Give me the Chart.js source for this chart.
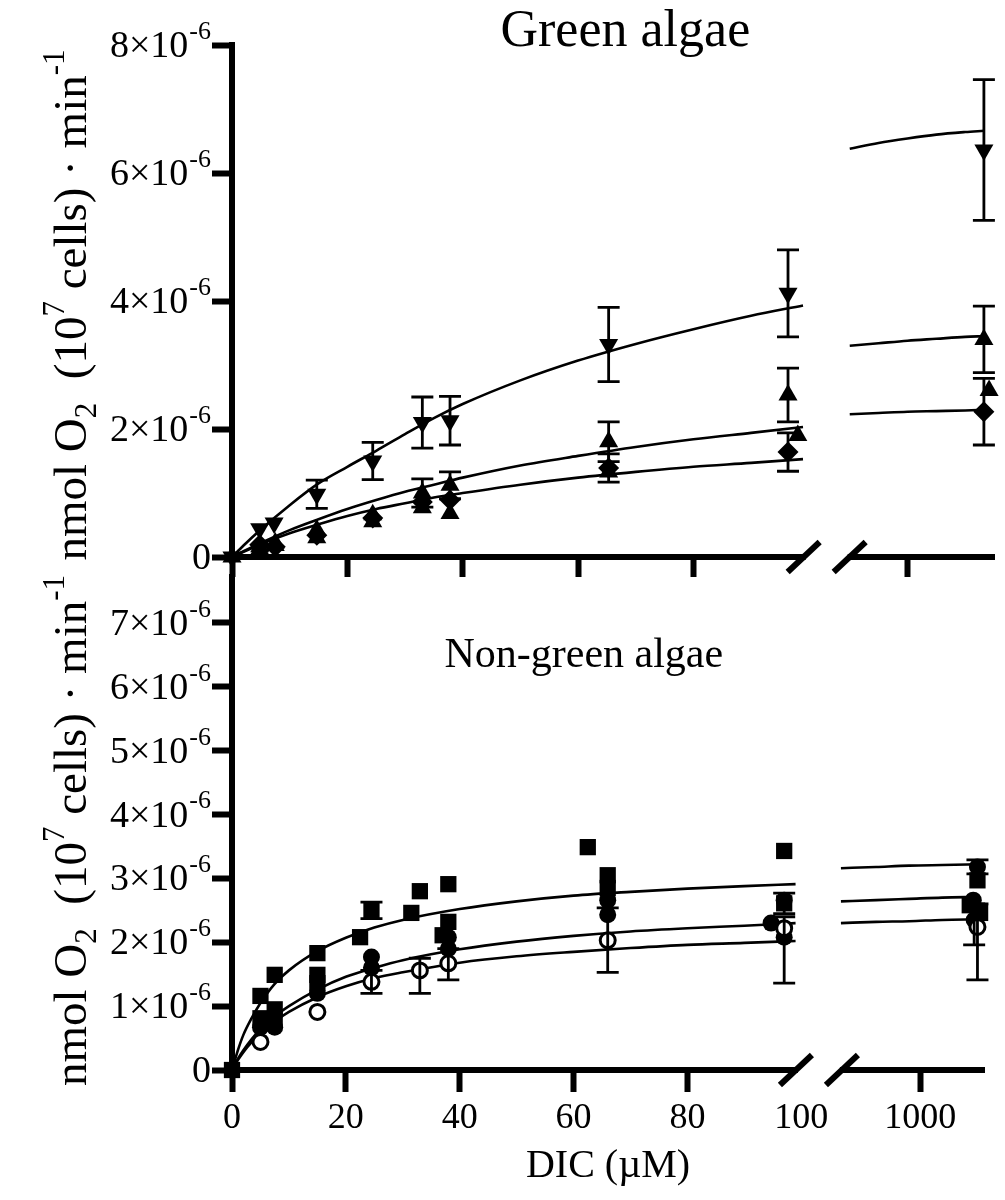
<!DOCTYPE html>
<html>
<head>
<meta charset="utf-8">
<script src="https://cdn.jsdelivr.net/npm/chart.js@4.4.1/dist/chart.umd.min.js"></script>
<style>
  body { margin: 0; background: #fff; }
  #wrap { position: relative; width: 1005px; height: 1200px; }
  canvas { position: absolute; left: 0; }
  #top { top: 0; }
  #bottom { top: 540px; }
</style>
</head>
<body>
<div id="wrap">
  <canvas id="top" width="1005" height="577"></canvas>
  <canvas id="bottom" width="1005" height="660"></canvas>
</div>
<script>
"use strict";

const SERIF = "'Liberation Serif', 'Times New Roman', serif";
Chart.defaults.font.family = SERIF;
Chart.defaults.color = "#000";

// DIC in µM. Rates in units of 10^-6 nmol O2 (10^7 cells)^-1 min^-1.
// The x axis is broken: 0-100 µM on the left part, ~1000 µM on the right part.
const farTicks = [1000];

// ---- Green algae (top panel) ----
const gDownX = [0, 4.8, 7.3, 14.7, 24.4, 33, 37.8, 65.3, 96.4];
const gDownY = [0, 0.44, 0.53, 0.98, 1.5, 2.1, 2.13, 3.32, 4.12];
const gDownSd = [0, 0, 0, 0.22, 0.29, 0.4, 0.38, 0.58, 0.68];
const gDownFarX = [1265];
const gDownFarY = [6.36];
const gDownFarSd = [1.1];

const gUpX = [0, 4.8, 7.5, 14.7, 24.4, 33, 37.8, 65.3, 96.4];
const gUpY = [0, 0.16, 0.22, 0.42, 0.66, 1.0, 1.12, 1.8, 2.53];
const gUpSd = [0, 0, 0, 0, 0, 0.22, 0.21, 0.31, 0.42];
const gUpFarX = [1265];
const gUpFarY = [3.4];
const gUpFarSd = [0.52];

const gUp2X = [4.8, 7.5, 14.7, 24.4, 33, 37.8, 65.3, 98.1];
const gUp2Y = [0.12, 0.18, 0.3, 0.55, 0.77, 0.68, 1.33, 1.9];
const gUp2FarX = [1283];
const gUp2FarY = [2.6];

const gDiaX = [4.8, 7.5, 14.7, 24.4, 33, 37.8, 65.3, 96.4];
const gDiaY = [0.19, 0.16, 0.34, 0.61, 0.86, 0.89, 1.39, 1.64];
const gDiaSd = [0, 0, 0, 0, 0, 0, 0.22, 0.3];
const gDiaFarX = [1265];
const gDiaFarY = [2.27];
const gDiaFarSd = [0.52];

// fitted curves
const gFitX = [0, 2, 5, 10, 15, 20, 25, 30, 35, 40, 50, 60, 70, 80, 90, 99];
const gDownFit = [0, 0.18, 0.43, 0.81, 1.15, 1.41, 1.66, 1.92, 2.17, 2.39, 2.76, 3.07, 3.33, 3.56, 3.77, 3.93];
const gUpFit = [0, 0.09, 0.22, 0.42, 0.59, 0.75, 0.89, 1.02, 1.13, 1.24, 1.43, 1.58, 1.72, 1.84, 1.94, 2.03];
const gDiaFit = [0, 0.08, 0.2, 0.37, 0.51, 0.64, 0.75, 0.84, 0.93, 1.0, 1.13, 1.24, 1.33, 1.41, 1.47, 1.53];
const gFitFarX = [800, 900, 1000, 1100, 1200, 1265];
const gDownFitFar = [6.38, 6.47, 6.54, 6.6, 6.64, 6.66];
const gUpFitFar = [3.3, 3.34, 3.38, 3.41, 3.44, 3.45];
const gDiaFitFar = [2.23, 2.25, 2.27, 2.28, 2.29, 2.3];

// ---- Non-green algae (bottom panel) ----
const nSqX = [0, 5, 7.5, 15, 22.5, 31.5, 37, 62.5, 97];
const nSqY = [0, 1.16, 1.49, 1.83, 2.08, 2.46, 2.11, 3.49, 3.43];
const nSqFarX = [1260];
const nSqFarY = [2.97];

const nSq2X = [5, 7.5, 15, 24.5, 33, 38, 66, 97];
const nSq2Y = [0.81, 0.95, 1.49, 2.5, 2.8, 2.91, 3.05, 2.61];
const nSq2Err = [null, null, null, [2.37, 2.63], null, null, null, [2.45, 2.77]];
const nSq2FarX = [1225];
const nSq2FarY = [2.58];

const nSq3X = [7.5, 15, 38, 66];
const nSq3Y = [0.8, 1.36, 2.32, 2.85];
const nSq3FarX = [1272];
const nSq3FarY = [2.46];

const nDotX = [5, 7.5, 15, 24.5, 38, 66, 94.7, 97];
const nDotY = [0.67, 0.67, 1.2, 1.77, 2.08, 2.66, 2.3, 2.66];
const nDotFarX = [1260, 1241];
const nDotFarY = [3.18, 2.66];
const nDotFarErr = [[3.07, 3.29], null];

const nDot2X = [24.5, 38, 66, 97];
const nDot2Y = [1.6, 1.9, 2.43, 2.08];
const nDot2FarX = [1245];
const nDot2FarY = [2.35];
const nDot2FarErr = [[1.96, 2.6]];

const nRingX = [5, 15, 24.5, 33, 38, 66, 97];
const nRingY = [0.44, 0.91, 1.38, 1.56, 1.67, 2.03, 2.22];
const nRingErr = [null, null, [1.2, 1.56], [1.2, 1.75], [1.41, 1.9], [1.53, 2.54], [1.36, 2.4]];
const nRingFarX = [1260];
const nRingFarY = [2.24];
const nRingFarErr = [[1.41, 2.6]];

const nFitX = [0, 1, 2, 3.5, 5, 7.5, 10, 15, 20, 25, 30, 40, 50, 60, 70, 80, 90, 99];
const nTopFit = [0, 0.3, 0.55, 0.82, 1.05, 1.35, 1.56, 1.86, 2.07, 2.23, 2.35, 2.52, 2.64, 2.73, 2.79, 2.84, 2.88, 2.91];
const nMidFit = [0, 0.17, 0.31, 0.49, 0.64, 0.84, 1.0, 1.26, 1.46, 1.6, 1.72, 1.89, 2.01, 2.1, 2.17, 2.22, 2.26, 2.3];
const nLowFit = [0, 0.15, 0.28, 0.44, 0.57, 0.76, 0.91, 1.14, 1.31, 1.44, 1.53, 1.68, 1.78, 1.85, 1.91, 1.96, 1.99, 2.02];
const nFitFarX = [640, 800, 950, 1100, 1260];
const nTopFitFar = [3.16, 3.18, 3.2, 3.21, 3.22];
const nMidFitFar = [2.64, 2.66, 2.68, 2.7, 2.71];
const nLowFitFar = [2.3, 2.32, 2.33, 2.35, 2.36];

const yTitle = [["nmol O", "n"], ["2", "sub"], ["  (10", "n"], ["7", "sup"], [" cells) · min", "n"], ["-1", "sup"]];

function pts(xs, ys) {
	return xs.map((x, i) => ({ x: x, y: ys[i] }));
}
function sdBars(ys, sd) {
	return ys.map((y, i) => (sd[i] ? [y - sd[i], y + sd[i]] : null));
}
function fit(xs, ys, axis) {
	return {
		type: "line", data: pts(xs, ys), xAxisID: axis,
		borderColor: "#000", borderWidth: 2.6, pointRadius: 0,
		cubicInterpolationMode: "monotone", order: 3,
	};
}
function marks(xs, ys, style, axis, bars, order) {
	return Object.assign({
		type: "scatter", data: pts(xs, ys), xAxisID: axis, clip: false,
		order: order === undefined ? 2 : order, errBars: bars || null,
		pointBackgroundColor: "#000", pointBorderColor: "#000", pointBorderWidth: 0,
	}, style);
}
const DOWN = { pointStyle: "triangle", pointRotation: 180, pointRadius: 11 };
const UP = { pointStyle: "triangle", pointRadius: 11 };
const DIAMOND = { pointStyle: "rectRot", pointRadius: 10.5 };
const SQUARE = { pointStyle: "rect", pointRadius: 11.5 };
const DOT = { pointStyle: "circle", pointRadius: 8.5 };
const RING = { pointStyle: "circle", pointRadius: 7.5, pointBackgroundColor: "#fff", pointBorderWidth: 3 };

const errorBars = {
	id: "errorBars",
	afterDatasetsDraw(chart) {
		const ctx = chart.ctx;
		const ys = chart.scales.y;
		ctx.save();
		ctx.strokeStyle = "#000";
		ctx.lineWidth = 2.8;
		chart.data.datasets.forEach((ds) => {
			if (!ds.errBars) return;
			const xs = chart.scales[ds.xAxisID];
			ds.data.forEach((p, i) => {
				const b = ds.errBars[i];
				if (!b) return;
				const px = xs.getPixelForValue(p.x);
				const lo = ys.getPixelForValue(b[0]);
				const hi = ys.getPixelForValue(b[1]);
				ctx.beginPath();
				ctx.moveTo(px, lo);
				ctx.lineTo(px, hi);
				ctx.moveTo(px - 11, lo);
				ctx.lineTo(px + 11, lo);
				ctx.moveTo(px - 11, hi);
				ctx.lineTo(px + 11, hi);
				ctx.stroke();
			});
		});
		ctx.restore();
	},
};

const axisDecor = {
	id: "axisDecor",
	afterDraw(chart, args, opts) {
		const ctx = chart.ctx;
		const area = chart.chartArea;
		const y = chart.scales.y;
		const j = chart.scales.x.right;
		const base = area.bottom;
		ctx.save();
		// break marks on the x axis
		ctx.fillStyle = "#fff";
		ctx.fillRect(j - 21, base - 4, 42, 8);
		ctx.strokeStyle = "#000";
		ctx.lineWidth = 6;
		[-23, 23].forEach((dx) => {
			ctx.beginPath();
			ctx.moveTo(j + dx - 16, base + 15);
			ctx.lineTo(j + dx + 16, base - 15);
			ctx.stroke();
		});
		// y tick labels with superscript exponent
		ctx.fillStyle = "#000";
		ctx.textBaseline = "middle";
		ctx.textAlign = "right";
		y.ticks.forEach((t) => {
			const py = y.getPixelForValue(t.value);
			let right = y.right - 21;
			if (t.value === 0) {
				ctx.font = "38px " + SERIF;
				ctx.fillText("0", right, py + 2);
				return;
			}
			ctx.font = "26px " + SERIF;
			ctx.fillText("-6", right, py - 13);
			right -= ctx.measureText("-6").width + 1;
			ctx.font = "38px " + SERIF;
			ctx.fillText(t.value + "×10", right, py + 2);
		});
		// panel label
		ctx.textAlign = "center";
		ctx.font = opts.labelSize + "px " + SERIF;
		ctx.fillText(opts.label, chart.scales.x.getPixelForValue(opts.labelX), y.getPixelForValue(opts.labelY));
		// rotated y title
		ctx.translate(opts.titleX, (area.top + area.bottom) / 2 + opts.titleShift);
		ctx.rotate(-Math.PI / 2);
		ctx.textAlign = "left";
		ctx.textBaseline = "alphabetic";
		const fonts = { n: "47px " + SERIF, sub: "31px " + SERIF, sup: "31px " + SERIF };
		const shift = { n: 0, sub: 10, sup: -22 };
		let total = 0;
		yTitle.forEach((p) => {
			ctx.font = fonts[p[1]];
			total += ctx.measureText(p[0]).width;
		});
		let x = -total / 2;
		yTitle.forEach((p) => {
			ctx.font = fonts[p[1]];
			ctx.fillText(p[0], x, shift[p[1]]);
			x += ctx.measureText(p[0]).width;
		});
		ctx.restore();
	},
};

function xAxes(showLabels, farMin, farMax) {
	const tl = showLabels ? 22 : 20;
	const grid = {
		drawOnChartArea: false, drawTicks: true, tickLength: tl, tickWidth: 6,
		color: "#000",
		tickColor: (c) => (c.tick && c.tick.value === 100 ? "rgba(0,0,0,0)" : "#000"),
	};
	const ticks = {
		display: showLabels, autoSkip: false, maxRotation: 0, padding: 5,
		font: { size: 36 }, color: "#000", callback: (v) => String(v),
	};
	const fitH = (s) => { s.height = showLabels ? 67 : 20; };
	return {
		x: {
			type: "linear", position: "bottom", stack: "dic", stackWeight: 597,
			min: 0, max: 103.1,
			border: { width: 6, color: "#000" }, grid: grid,
			ticks: Object.assign({ stepSize: 20, includeBounds: false }, ticks),
			afterFit: fitH,
		},
		x2: {
			type: "linear", position: "bottom", stack: "dic", stackWeight: 168,
			min: farMin, max: farMax,
			border: { width: 6, color: "#000" }, grid: grid,
			ticks: Object.assign({}, ticks),
			afterBuildTicks: (s) => { s.ticks = farTicks.map((v) => ({ value: v })); },
			afterFit: fitH,
		},
	};
}
function yAxis(max, step) {
	return {
		type: "linear", position: "left", min: 0, max: max,
		ticks: { stepSize: step, display: false, includeBounds: false },
		border: { width: 6, color: "#000" },
		grid: { drawOnChartArea: false, tickLength: 20, tickWidth: 6, color: "#000" },
		afterFit: (s) => { s.width = 232; },
	};
}

new Chart(document.getElementById("top"), {
	type: "scatter",
	data: {
		datasets: [
			fit(gFitX, gDownFit, "x"),
			fit(gFitX, gUpFit, "x"),
			fit(gFitX, gDiaFit, "x"),
			fit(gFitFarX, gDownFitFar, "x2"),
			fit(gFitFarX, gUpFitFar, "x2"),
			fit(gFitFarX, gDiaFitFar, "x2"),
			marks(gDownX, gDownY, DOWN, "x", sdBars(gDownY, gDownSd)),
			marks(gUpX, gUpY, UP, "x", sdBars(gUpY, gUpSd)),
			marks(gUp2X, gUp2Y, UP, "x"),
			marks(gDiaX, gDiaY, DIAMOND, "x", sdBars(gDiaY, gDiaSd)),
			marks(gDownFarX, gDownFarY, DOWN, "x2", sdBars(gDownFarY, gDownFarSd)),
			marks(gUpFarX, gUpFarY, UP, "x2", sdBars(gUpFarY, gUpFarSd)),
			marks(gUp2FarX, gUp2FarY, UP, "x2"),
			marks(gDiaFarX, gDiaFarY, DIAMOND, "x2", sdBars(gDiaFarY, gDiaFarSd)),
		],
	},
	options: {
		responsive: false,
		animation: false,
		events: [],
		layout: { padding: { top: 45, right: 8, left: 0, bottom: 0 } },
		scales: Object.assign(xAxes(false, 720, 1300), { y: yAxis(8, 2) }),
		plugins: {
			legend: { display: false },
			tooltip: { enabled: false },
			axisDecor: { label: "Green algae", labelSize: 52, labelX: 68.2, labelY: 8.2, titleX: 86, titleShift: 4 },
		},
	},
	plugins: [errorBars, axisDecor],
});

new Chart(document.getElementById("bottom"), {
	type: "scatter",
	data: {
		datasets: [
			fit(nFitX, nTopFit, "x"),
			fit(nFitX, nMidFit, "x"),
			fit(nFitX, nLowFit, "x"),
			fit(nFitFarX, nTopFitFar, "x2"),
			fit(nFitFarX, nMidFitFar, "x2"),
			fit(nFitFarX, nLowFitFar, "x2"),
			marks(nSqX, nSqY, SQUARE, "x"),
			marks(nSq2X, nSq2Y, SQUARE, "x", nSq2Err),
			marks(nSq3X, nSq3Y, SQUARE, "x"),
			marks(nDotX, nDotY, DOT, "x"),
			marks(nDot2X, nDot2Y, DOT, "x"),
			marks(nRingX, nRingY, RING, "x", nRingErr, 1),
			marks(nSqFarX, nSqFarY, SQUARE, "x2"),
			marks(nSq2FarX, nSq2FarY, SQUARE, "x2"),
			marks(nSq3FarX, nSq3FarY, SQUARE, "x2"),
			marks(nDotFarX, nDotFarY, DOT, "x2", nDotFarErr),
			marks(nDot2FarX, nDot2FarY, DOT, "x2", nDot2FarErr),
			marks(nRingFarX, nRingFarY, RING, "x2", nRingFarErr, 1),
		],
	},
	options: {
		responsive: false,
		animation: false,
		events: [],
		layout: { padding: { top: 37, right: 8, left: 0, bottom: 0 } },
		scales: Object.assign(xAxes(true, 540, 1290), { y: yAxis(7.72, 1) }),
		plugins: {
			legend: { display: false },
			tooltip: { enabled: false },
			title: {
				display: true, position: "bottom", fullSize: false, text: "DIC (µM)",
				color: "#000", font: { size: 40, weight: "normal" }, padding: { top: 5, bottom: 10 },
			},
			axisDecor: { label: "Non-green algae", labelSize: 42, labelX: 61.8, labelY: 6.49, titleX: 86, titleShift: 7 },
		},
	},
	plugins: [errorBars, axisDecor],
});
</script>
</body>
</html>
